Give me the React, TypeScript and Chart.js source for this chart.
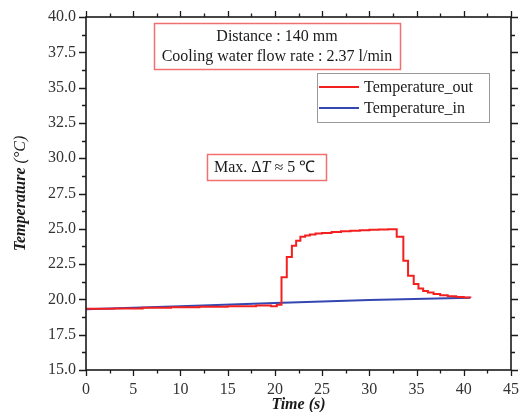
import React, { useEffect, useRef } from "react";
import { Chart, registerables } from "chart.js";

Chart.register(...registerables);

// ---- data ----
const outTimes = [0, 3, 6, 9, 12, 15, 18, 19.6, 20.2, 20.7, 21.26, 21.8, 22.25, 22.7, 23.2, 23.7, 24.3, 25, 26, 27, 28, 29, 30, 31, 32, 32.9, 33.6, 34.1, 34.7, 35.2, 35.7, 36.2, 36.8, 37.5, 38.3, 39.2, 40, 40.7];
const outTemps = [19.33, 19.36, 19.4, 19.44, 19.48, 19.52, 19.57, 19.52, 19.62, 21.56, 23.0, 23.8, 24.16, 24.44, 24.53, 24.6, 24.66, 24.71, 24.77, 24.82, 24.86, 24.9, 24.93, 24.95, 24.97, 24.44, 22.74, 21.68, 21.09, 20.78, 20.6, 20.48, 20.38, 20.3, 20.23, 20.17, 20.13, 20.12];
const inTimes = [0, 10, 20, 30, 40.7];
const inTemps = [19.3, 19.52, 19.74, 19.95, 20.12];

const seriesLabels = ["Temperature_out", "Temperature_in"];
const infoLines = ["Distance : 140 mm", "Cooling water flow rate : 2.37 l/min"];
const xTitle = "Time (s)";
const yTitleMain = "Temperature";
const yTitleUnit = " (°C)";

const SERIF = '"Liberation Serif", "Times New Roman", serif';
const RED = "#f42020";
const BLUE = "#3447b0";

const decorPlugin = {
  id: "decor",
  afterDraw(chart: any) {
    const { ctx, chartArea: a, scales } = chart;
    const xs = scales.x;
    const ys = scales.y;
    ctx.save();
    // frame
    ctx.strokeStyle = "#1a1a1a";
    ctx.lineWidth = 1.6;
    ctx.strokeRect(a.left, a.top, a.right - a.left, a.bottom - a.top);
    const vals = (s: any) => s.ticks.map((t: any) => t.value);
    const withMinor = (v: number[], maj: number, min: number) => {
      const out: [number, number][] = [];
      v.forEach((val, i) => {
        out.push([val, maj]);
        if (i < v.length - 1) out.push([(val + v[i + 1]) / 2, min]);
      });
      return out;
    };
    ctx.lineWidth = 1.3;
    ctx.beginPath();
    withMinor(vals(xs), 6, 3.5).forEach(([v, len]) => {
      const px = Math.round(xs.getPixelForValue(v)) + 0.5;
      ctx.moveTo(px, a.bottom);
      ctx.lineTo(px, a.bottom + len);
      ctx.moveTo(px, a.top);
      ctx.lineTo(px, a.top - len);
    });
    withMinor(vals(ys), 7, 4).forEach(([v, len]) => {
      const py = Math.round(ys.getPixelForValue(v)) + 0.5;
      ctx.moveTo(a.left, py);
      ctx.lineTo(a.left - len, py);
      ctx.moveTo(a.right, py);
      ctx.lineTo(a.right + len, py);
    });
    ctx.stroke();

    // y axis title (mixed styles)
    ctx.save();
    ctx.translate(21, (a.top + a.bottom) / 2);
    ctx.rotate(-Math.PI / 2);
    ctx.fillStyle = "#1a1a1a";
    ctx.textBaseline = "middle";
    ctx.textAlign = "left";
    ctx.font = `bold italic 16px ${SERIF}`;
    const w1 = ctx.measureText(yTitleMain).width;
    ctx.font = `italic 16px ${SERIF}`;
    const w2 = ctx.measureText(yTitleUnit).width;
    let tx = -(w1 + w2) / 2;
    ctx.font = `bold italic 16px ${SERIF}`;
    ctx.fillText(yTitleMain, tx, 0);
    tx += w1;
    ctx.font = `italic 16px ${SERIF}`;
    ctx.fillText(yTitleUnit, tx, 0);
    ctx.restore();

    // info box
    ctx.strokeStyle = "#f07070";
    ctx.lineWidth = 1.5;
    ctx.strokeRect(154.5, 23.5, 246, 46);
    ctx.fillStyle = "#1a1a1a";
    ctx.font = `16px ${SERIF}`;
    ctx.textAlign = "center";
    ctx.textBaseline = "middle";
    ctx.fillText(infoLines[0], 277, 37);
    ctx.fillText(infoLines[1], 277, 57);

    // max delta T box
    ctx.strokeRect(207.5, 154.5, 119, 26);
    ctx.textAlign = "left";
    let x = 214;
    const parts: [string, string][] = [
      ["Max. Δ", `16px ${SERIF}`],
      ["T", `italic 16px ${SERIF}`],
      [" ≈ 5 ℃", `16px ${SERIF}`],
    ];
    parts.forEach(([t, f]) => {
      ctx.font = f;
      ctx.fillText(t, x, 168);
      x += ctx.measureText(t).width;
    });

    // legend
    ctx.strokeStyle = "#9a9a9a";
    ctx.lineWidth = 1;
    ctx.strokeRect(317.5, 73.5, 172, 49);
    const rows = [87, 108];
    chart.data.datasets.forEach((ds: any, i: number) => {
      ctx.strokeStyle = ds.borderColor;
      ctx.lineWidth = 2;
      ctx.beginPath();
      ctx.moveTo(319, rows[i]);
      ctx.lineTo(359, rows[i]);
      ctx.stroke();
      ctx.fillStyle = "#1a1a1a";
      ctx.font = `16px ${SERIF}`;
      ctx.fillText(ds.label, 364, rows[i] + 1);
    });
    ctx.restore();
  },
};

export default function App() {
  const ref = useRef<HTMLCanvasElement>(null);
  useEffect(() => {
    if (!ref.current) return;
    const chart = new Chart(ref.current, {
      type: "line",
      data: {
        datasets: [
          {
            label: seriesLabels[0],
            data: outTimes.map((t, i) => ({ x: t, y: outTemps[i] })),
            borderColor: RED,
            borderWidth: 2,
            pointRadius: 0,
            stepped: true,
            fill: false,
          },
          {
            label: seriesLabels[1],
            data: inTimes.map((t, i) => ({ x: t, y: inTemps[i] })),
            borderColor: BLUE,
            borderWidth: 2,
            pointRadius: 0,
            tension: 0,
            fill: false,
          },
        ],
      },
      options: {
        animation: false,
        responsive: false,
        layout: { padding: { left: 0, right: 10, top: 17, bottom: 0 } },
        plugins: { legend: { display: false }, tooltip: { enabled: false } },
        scales: {
          x: {
            type: "linear",
            min: 0,
            max: 45,
            grid: { display: false, drawTicks: false },
            border: { display: false },
            ticks: {
              stepSize: 5,
              padding: 10,
              color: "#333",
              font: { family: SERIF, size: 16 },
              maxRotation: 0,
            },
            title: {
              display: true,
              text: xTitle,
              color: "#1a1a1a",
              font: { family: SERIF, size: 16, weight: "bold", style: "italic" },
              padding: { top: 0, bottom: -2 },
            },
            afterFit: (s: any) => {
              s.height = 42;
              s.paddingLeft = 0;
              s.paddingRight = 0;
            },
          },
          y: {
            min: 15,
            max: 40,
            grid: { display: false, drawTicks: false },
            border: { display: false },
            ticks: {
              stepSize: 2.5,
              padding: 10,
              color: "#333",
              font: { family: SERIF, size: 16 },
              callback: (v: any) => Number(v).toFixed(1),
            },
            title: { display: false },
            afterFit: (s: any) => {
              s.width = 86;
              s.paddingTop = 0;
              s.paddingBottom = 0;
            },
          },
        },
      },
      plugins: [decorPlugin],
    } as any);
    return () => chart.destroy();
  }, []);
  return (
    <canvas
      ref={ref}
      width={521}
      height={412}
      style={{ position: "fixed", left: 0, top: 0, width: 521, height: 412 }}
    />
  );
}
